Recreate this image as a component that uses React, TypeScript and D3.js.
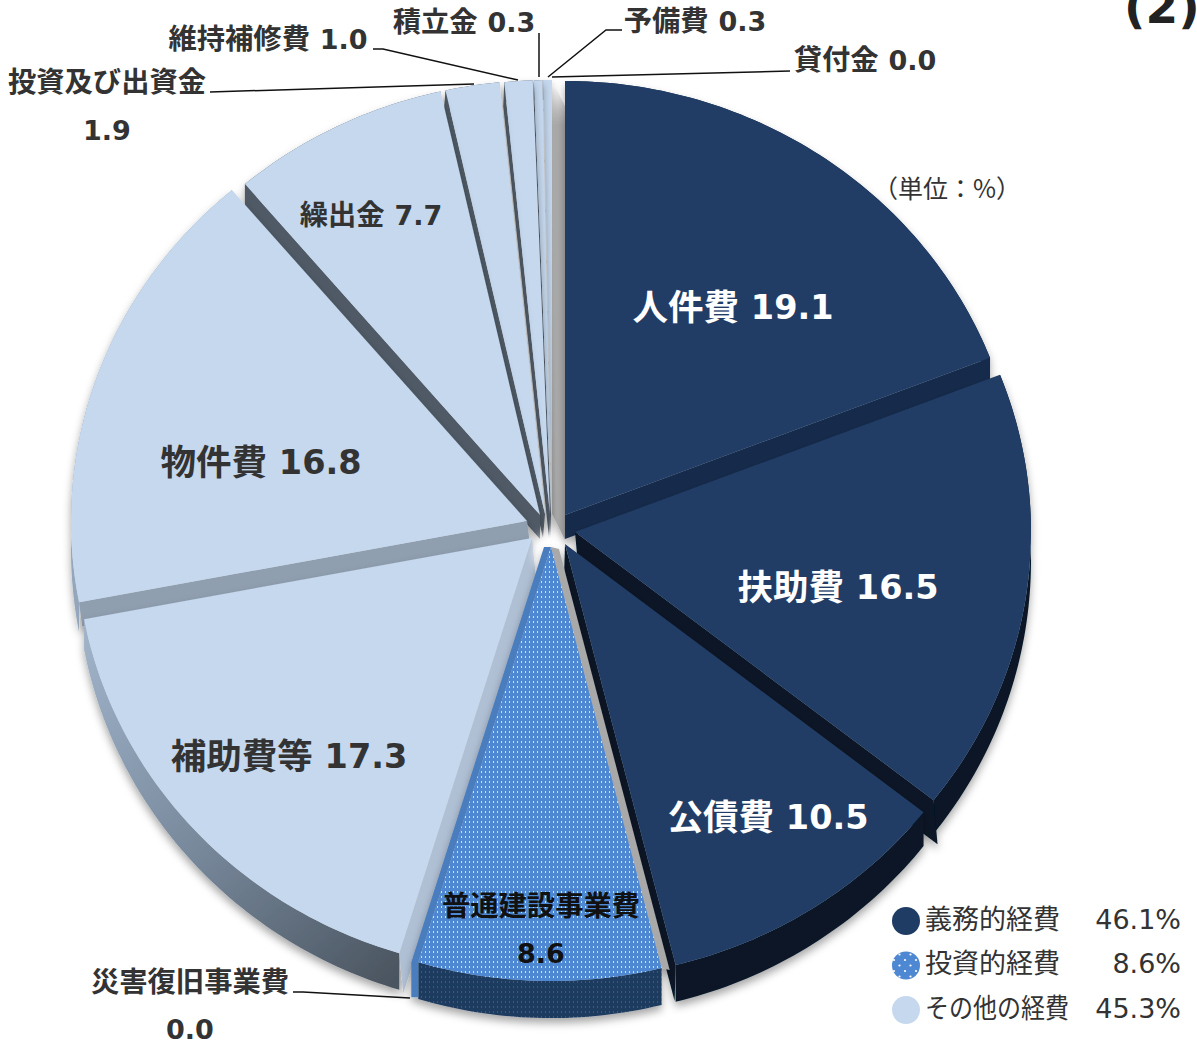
import React from "react";
import * as d3 from "d3";

// ---- data ----
const categories = ["人件費","扶助費","公債費","普通建設事業費","災害復旧事業費","補助費等","物件費","繰出金","投資及び出資金","維持補修費","積立金","予備費","貸付金"];
const shareValues = [19.1,16.5,10.5,8.6,0.0,17.3,16.8,7.7,1.9,1.0,0.3,0.3,0.0];
const legendNames = ["義務的経費","投資的経費","その他の経費"];
const legendValues = ["46.1%","8.6%","45.3%"];
const legendColors = ["#1f3c64","url(#dotsBig)","#c5d8ee"];
const legendNameWidths = [135,135,144];

// ---- layout (explosion + styling of each slice) ----
const RX = 456, RY = 434;
type Face = { dx: number; dy: number; fill: string; flat?: boolean };
type Sty = { ax: number; ay: number; top: string; outer: string; startF?: Face; endF?: Face };
const styles: Sty[] = [
  { ax:565, ay:515, top:"#203d65", outer:"#152c4c", endF:{dx:0,dy:24,fill:"#152c4c"} },
  { ax:575, ay:532, top:"#203d65", outer:"#071828", endF:{dx:4,dy:44,fill:"#071828"} },
  { ax:565, ay:544, top:"#203d65", outer:"#071828", endF:{dx:-1,dy:36,fill:"#071828"} },
  { ax:551, ay:547, top:"url(#dots)", outer:"url(#dotsDark)", startF:{dx:8,dy:2,fill:"#a9a9a9"}, endF:{dx:-7,dy:35,fill:"#4a7dbd",flat:true} },
  { ax:540, ay:545, top:"none", outer:"none" },
  { ax:532, ay:538, top:"#c5d8ee", outer:"url(#hojoWall)", startF:{dx:4,dy:40,fill:"#b0c0d4"} },
  { ax:527, ay:521, top:"#c5d8ee", outer:"#93a6bb", startF:{dx:3,dy:24,fill:"#909fb0"} },
  { ax:540, ay:515, top:"#c5d8ee", outer:"#505a66", startF:{dx:0,dy:24,fill:"#505a66"} },
  { ax:545, ay:514, top:"#c5d8ee", outer:"#505a66", startF:{dx:-2,dy:24,fill:"#505a66"} },
  { ax:550, ay:514, top:"#c5d8ee", outer:"#505a66", startF:{dx:-1,dy:24,fill:"#505a66"} },
  { ax:551, ay:514, top:"#c5d8ee", outer:"#505a66", startF:{dx:-1,dy:24,fill:"#505a66"} },
  { ax:552, ay:514, top:"#c5d8ee", outer:"#a9a9a9", endF:{dx:13,dy:26,fill:"url(#greyFade)"} },
  { ax:552, ay:514, top:"none", outer:"none" },
];
const paintOrder = [11,10,9,8,7,0,6,1,5,2,3];

const FONT = "'DejaVu Sans','Noto Sans CJK JP',sans-serif";
type Lab = { i: number; line: string; x: number; y: number; size: number; fill: string };
const labelLayout: Lab[] = [
  { i:0, line:"人件費 19.1", x:733, y:307, size:34, fill:"#fff" },
  { i:1, line:"扶助費 16.5", x:838, y:587, size:34, fill:"#fff" },
  { i:2, line:"公債費 10.5", x:768, y:817, size:34, fill:"#fff" },
  { i:3, line:"普通建設事業費", x:541, y:906, size:28, fill:"#111" },
  { i:3, line:"8.6", x:541, y:953, size:28, fill:"#111" },
  { i:5, line:"補助費等 17.3", x:289, y:756, size:34, fill:"#333" },
  { i:6, line:"物件費 16.8", x:261, y:462, size:34, fill:"#333" },
  { i:7, line:"繰出金 7.7", x:371, y:215, size:28, fill:"#333" },
  { i:8, line:"投資及び出資金", x:107, y:82, size:28, fill:"#333" },
  { i:8, line:"1.9", x:107, y:130, size:28, fill:"#333" },
  { i:9, line:"維持補修費 1.0", x:268, y:39, size:28, fill:"#333" },
  { i:10, line:"積立金 0.3", x:464, y:22, size:28, fill:"#333" },
  { i:11, line:"予備費 0.3", x:695, y:21, size:28, fill:"#333" },
  { i:12, line:"貸付金 0.0", x:865, y:60, size:28, fill:"#333" },
  { i:4, line:"災害復旧事業費", x:190, y:982, size:28, fill:"#333" },
  { i:4, line:"0.0", x:190, y:1029, size:28, fill:"#333" },
];
const leaders: [number, number][][] = [
  [[210,92],[474,84]],
  [[373,49],[383,49],[518,80]],
  [[539,33],[539,77]],
  [[622,30],[606,30],[548,77]],
  [[790,71],[552,77]],
  [[293,992],[303,992],[410,998]],
];

const pieAngles = d3.pie<number>().sort(null).value(d => d)(shareValues);
const depth = (y: number) => 20 + 0.019 * (y - 80);
const closed = (pts: [number, number][]) => d3.line()(pts)! + "Z";

function pt(s: Sty, a: number): [number, number] {
  const x = d3.scaleLinear().domain([-1, 1]).range([s.ax - RX, s.ax + RX]);
  const y = d3.scaleLinear().domain([-1, 1]).range([s.ay + RY, s.ay - RY]);
  return [x(Math.sin(a)), y(Math.cos(a))];
}

function Slice({ idx }: { idx: number }) {
  const s = styles[idx];
  const { startAngle: a0, endAngle: a1 } = pieAngles[idx];
  const n = Math.max(2, Math.ceil((a1 - a0) * 60));
  const arc = d3.range(n + 1).map(k => pt(s, a0 + ((a1 - a0) * k) / n));
  const apex: [number, number] = [s.ax, s.ay];
  const face = (p: [number, number], f: Face) =>
    f.flat
      ? closed([apex, p, [p[0], p[1] + f.dy], [p[0] + f.dx, p[1] + f.dy], [p[0] + f.dx, p[1]], [apex[0] + f.dx, apex[1]]])
      : closed([apex, p, [p[0] + f.dx, p[1] + f.dy], [apex[0] + f.dx, apex[1] + f.dy]]);
  const outer = closed([...arc, ...arc.slice().reverse().map(([x, y]) => [x, y + depth(y)] as [number, number])]);
  return (
    <g filter="url(#soft)">
      <path d={outer} fill={s.outer} />
      {s.endF && <path d={face(arc[n], s.endF)} fill={s.endF.fill} />}
      {s.startF && <path d={face(arc[0], s.startF)} fill={s.startF.fill} />}
      <path d={closed([apex, ...arc])} fill={s.top} />
    </g>
  );
}

function LabelText({ l }: { l: Lab }) {
  const m = l.line.match(/^(\S*?)\s*([\d.]+)?$/)!;
  const name = m[1], num = m[2];
  const big = l.size > 30;
  return (
    <text x={l.x} y={l.y} fontWeight={700} fill={l.fill} textAnchor="middle" dominantBaseline="central" fontSize={l.size}>
      {name && <tspan fontSize={big ? 35.5 : 28.3}>{name}</tspan>}
      {name && num && <tspan fontSize={big ? 34 : 28}>{" "}</tspan>}
      {num && <tspan fontSize={big ? 33.5 : 27}>{num}</tspan>}
    </text>
  );
}

export default function App() {
  return (
    <svg width={1197} height={1045} style={{ position: "absolute", left: 0, top: 0, background: "#fff" }} fontFamily={FONT}>
      <defs>
        <filter id="soft" x="-20%" y="-20%" width="140%" height="140%">
          <feDropShadow dx="0" dy="5" stdDeviation="4" floodColor="#000" floodOpacity="0.35" />
        </filter>
        <filter id="glow" x="-100%" y="-100%" width="300%" height="300%">
          <feGaussianBlur stdDeviation="5" />
        </filter>
        <pattern id="dots" width="4" height="5" patternUnits="userSpaceOnUse">
          <rect width="4" height="5" fill="#4f88d2" />
          <rect x="1" y="1" width="1" height="2" fill="#cfe0f5" />
        </pattern>
        <pattern id="dotsDark" width="4" height="5" patternUnits="userSpaceOnUse">
          <rect width="4" height="5" fill="#1f3a5f" />
          <rect x="1" y="1" width="1" height="2" fill="#4a5568" />
        </pattern>
        <pattern id="dotsBig" width="11" height="11" patternUnits="userSpaceOnUse">
          <rect width="11" height="11" fill="#4f88d2" />
          <circle cx="3" cy="3" r="1.1" fill="#fff" />
          <circle cx="8.5" cy="8.5" r="1.1" fill="#fff" />
        </pattern>
        <linearGradient id="hojoWall" gradientUnits="userSpaceOnUse" x1="85" y1="640" x2="400" y2="980">
          <stop offset="0" stopColor="#9fb2c8" />
          <stop offset="0.5" stopColor="#77889b" />
          <stop offset="1" stopColor="#4a545f" />
        </linearGradient>
        <linearGradient id="greyFade" gradientUnits="userSpaceOnUse" x1="0" y1="85" x2="0" y2="125">
          <stop offset="0" stopColor="#a9a9a9" stopOpacity="0" />
          <stop offset="1" stopColor="#a9a9a9" />
        </linearGradient>
      </defs>

      {paintOrder.slice(0, 9).map(i => <Slice key={i} idx={i} />)}
      <ellipse cx={548} cy={552} rx={13} ry={18} fill="#fff" filter="url(#glow)" />
      {paintOrder.slice(9).map(i => <Slice key={i} idx={i} />)}

      {leaders.map((l, i) => (
        <path key={i} d={d3.line()(l)!} fill="none" stroke="#111" strokeWidth={1.5} />
      ))}

      {labelLayout.map((l, i) => <LabelText key={i} l={l} />)}

      <text x={947} y={187} fontSize={25} fill="#333" textAnchor="middle" dominantBaseline="central" fontFamily="'Noto Sans CJK JP',sans-serif">（単位：%）</text>
      <text x={1124} y={6} fontSize={47} fontWeight={700} fill="#222" dominantBaseline="central">(2)</text>

      {legendNames.map((n, i) => {
        const y = d3.scaleLinear().domain([0, 2]).range([919, 1008])(i);
        return (
          <g key={n}>
            <circle cx={906} cy={y + 2} r={14} fill={legendColors[i]} />
            <text x={925} y={y} fontSize={27} fill="#333" dominantBaseline="central" textLength={legendNameWidths[i]} lengthAdjust="spacingAndGlyphs">{n}</text>
            <text x={1181} y={y} fontSize={27} fill="#333" textAnchor="end" dominantBaseline="central">{legendValues[i]}</text>
          </g>
        );
      })}
      <title>{categories.join(" ")}</title>
    </svg>
  );
}
